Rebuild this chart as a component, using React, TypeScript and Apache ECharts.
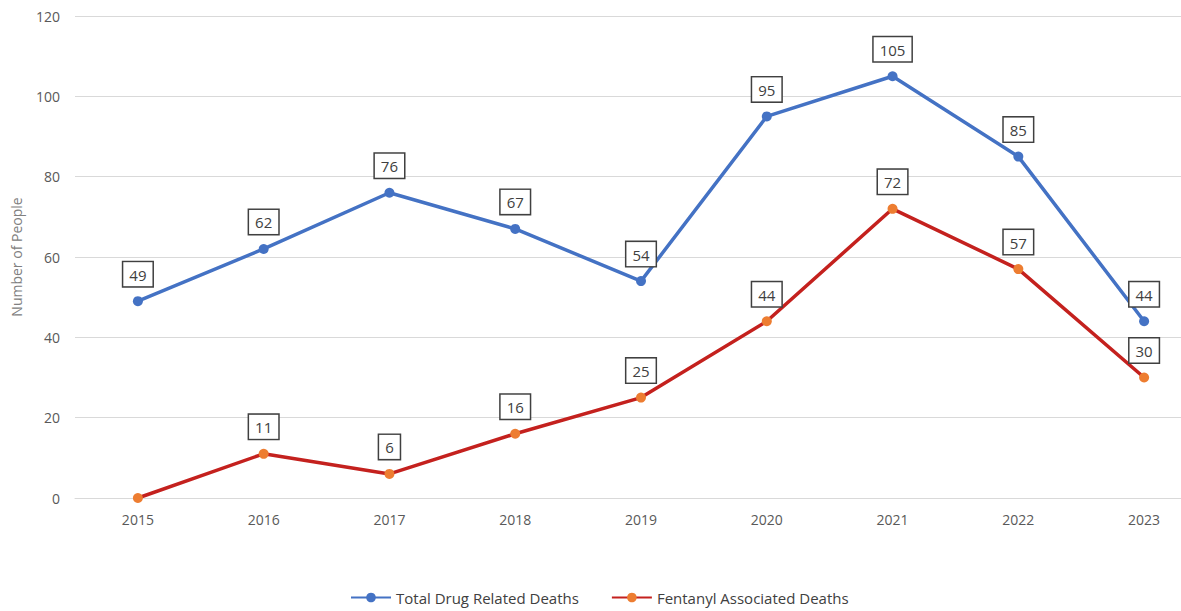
import React, { useEffect, useRef } from "react";
import * as echarts from "echarts";

const years = ["2015", "2016", "2017", "2018", "2019", "2020", "2021", "2022", "2023"];
const totalDeaths = [49, 62, 76, 67, 54, 95, 105, 85, 44];
const fentanylDeaths = [0, 11, 6, 16, 25, 44, 72, 57, 30];

const baseLabel = {
  show: true,
  position: "top" as const,
  distance: 10,
  color: "#404040",
  fontSize: 15,
  fontFamily: "Open Sans, Noto Sans, sans-serif",
  backgroundColor: "#ffffff",
  borderColor: "#404040",
  borderWidth: 1.5,
  padding: [5, 6, 4, 6],
};

export default function App() {
  const ref = useRef<HTMLDivElement>(null);
  useEffect(() => {
    document.body.style.margin = "0";
    const chart = echarts.init(ref.current!, null, { renderer: "svg" });
    chart.setOption({
      animation: false,
      textStyle: { fontFamily: "Open Sans, Noto Sans, sans-serif" },
      grid: { left: 75, right: 0, top: 16, bottom: 113, containLabel: false },
      xAxis: {
        type: "category",
        data: years,
        boundaryGap: true,
        axisLine: { show: true, lineStyle: { color: "#d9d9d9", width: 1 } },
        axisTick: { show: false },
        axisLabel: { color: "#595959", fontSize: 14, margin: 14 },
      },
      yAxis: {
        type: "value",
        min: 0,
        max: 120,
        interval: 20,
        name: "Number of People",
        nameLocation: "middle",
        nameGap: 52,
        nameTextStyle: { color: "#808080", fontSize: 14 },
        axisLine: { show: false },
        axisTick: { show: false },
        axisLabel: { color: "#595959", fontSize: 14, margin: 15 },
        splitLine: { lineStyle: { color: "#d9d9d9", width: 1 } },
      },
      legend: {
        bottom: 1,
        left: 345,
        itemWidth: 40,
        itemHeight: 12,
        itemGap: 32,
        textStyle: { color: "#404040", fontSize: 15 },
        data: ["Total Drug Related Deaths", "Fentanyl Associated Deaths"],
      },
      series: [
        {
          name: "Total Drug Related Deaths",
          type: "line",
          data: totalDeaths,
          symbol: "circle",
          symbolSize: 10,
          lineStyle: { color: "#4472C4", width: 3.5 },
          itemStyle: { color: "#4472C4" },
          label: baseLabel,
        },
        {
          name: "Fentanyl Associated Deaths",
          type: "line",
          data: fentanylDeaths.map((v, i) =>
            i === 0 ? { value: v, label: { show: false } } : v
          ),
          symbol: "circle",
          symbolSize: 10,
          lineStyle: { color: "#C4211E", width: 3.5 },
          itemStyle: { color: "#ED7D31" },
          label: baseLabel,
        },
      ],
    });
    return () => chart.dispose();
  }, []);
  return (
    <div style={{ width: 1181, height: 611, overflow: "hidden" }}>
      <div ref={ref} style={{ width: 1207, height: 611 }} />
    </div>
  );
}
